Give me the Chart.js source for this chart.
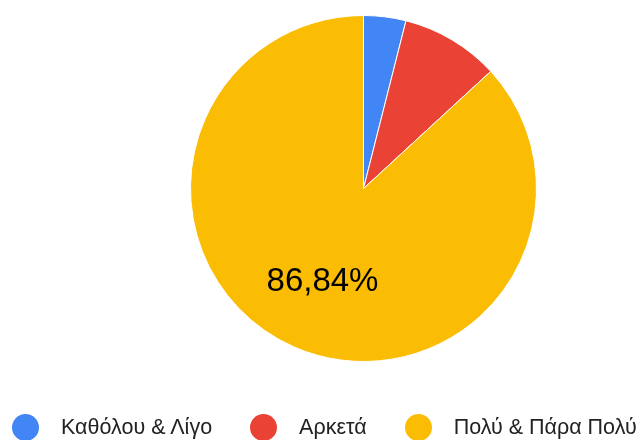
<!DOCTYPE html>
<html>
<head>
<meta charset="utf-8">
<script src="https://cdn.jsdelivr.net/npm/chart.js@4"></script>
<style>
    html, body { margin: 0; padding: 0; background: #fff; }
    body { width: 641px; height: 440px; overflow: hidden; position: relative; font-family: "Liberation Sans", Arial, sans-serif; }
    #wrap { position: absolute; left: 0; top: 0; width: 641px; height: 440px; }
    #legend { position: absolute; left: 12px; top: 414px; display: flex; align-items: center; white-space: nowrap; }
    .item { display: flex; align-items: center; margin-right: 38px; }
    .dot { width: 27px; height: 27px; border-radius: 50%; margin-right: 22px; flex: none; }
    .txt { font-size: 21.5px; color: #222; line-height: 27px; }
</style>
</head>
<body>
<div id="wrap"><canvas id="pieChart"></canvas></div>
<div id="legend"></div>
<script>
const categories = ['Καθόλου & Λίγο', 'Αρκετά', 'Πολύ & Πάρα Πολύ'];
const values = [3, 7, 66];
const colors = ['#4285F4', '#EA4335', '#FBBC04'];

document.addEventListener('DOMContentLoaded', function() {

    const total = values.reduce((a, b) => a + b, 0);

    // percentage label inside the big slices
    const sliceLabels = {
        id: 'sliceLabels',
        afterDatasetsDraw(chart) {
            const ctx = chart.ctx;
            const meta = chart.getDatasetMeta(0);
            meta.data.forEach((arc, i) => {
                const pct = values[i] / total * 100;
                if (pct < 15) return;
                const p = arc.getProps(['x', 'y', 'startAngle', 'endAngle', 'outerRadius'], true);
                const mid = (p.startAngle + p.endAngle) / 2;
                const r = p.outerRadius * 0.59;
                ctx.save();
                ctx.fillStyle = '#000';
                ctx.font = '33px "Liberation Sans", Arial, sans-serif';
                ctx.textAlign = 'center';
                ctx.textBaseline = 'middle';
                ctx.fillText(pct.toFixed(2).replace('.', ',') + '%', p.x + Math.cos(mid) * r, p.y + Math.sin(mid) * r);
                ctx.restore();
            });
        }
    };

    new Chart(document.getElementById('pieChart'), {
        type: 'pie',
        data: {
            labels: categories,
            datasets: [{
                data: values,
                backgroundColor: colors,
                borderColor: '#fff',
                borderWidth: 1
            }]
        },
        options: {
            responsive: true,
            maintainAspectRatio: false,
            animation: false,
            layout: { padding: { left: 190, right: 104, top: 15, bottom: 78 } },
            plugins: {
                legend: { display: false },
                tooltip: { enabled: false }
            }
        },
        plugins: [sliceLabels]
    });

    // legend along the bottom
    const legend = document.getElementById('legend');
    categories.forEach((name, i) => {
        const item = document.createElement('div');
        item.className = 'item';
        item.innerHTML = '<span class="dot" style="background:' + colors[i] + '"></span><span class="txt">' + name + '</span>';
        legend.appendChild(item);
    });
});
</script>
</body>
</html>
